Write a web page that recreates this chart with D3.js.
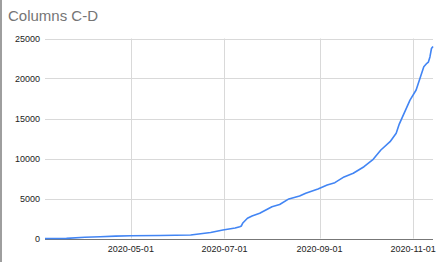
<!DOCTYPE html>
<html>
<head>
<meta charset="utf-8">
<style>
body { margin: 0; background: #fff; }
.grid line { stroke: #d9d9d9; stroke-width: 1; }
.axis text { font-family: "Liberation Sans", Arial, sans-serif; font-size: 9px; fill: #222; }
</style>
</head>
<body>
<svg width="439" height="262"></svg>
<script src="https://d3js.org/d3.v7.min.js"></script>
<script>
// values
var dates = ["2020-03-06","2020-03-20","2020-04-01","2020-04-11","2020-04-21","2020-05-01",
  "2020-05-20","2020-06-09","2020-06-22","2020-06-30","2020-07-08","2020-07-11","2020-07-12",
  "2020-07-13","2020-07-16","2020-07-19","2020-07-24","2020-07-28","2020-08-01","2020-08-06",
  "2020-08-12","2020-08-19","2020-08-23","2020-08-31","2020-09-06","2020-09-11","2020-09-17",
  "2020-09-23","2020-09-30","2020-10-06","2020-10-11","2020-10-17","2020-10-21","2020-10-23",
  "2020-10-30","2020-11-03","2020-11-08","2020-11-10","2020-11-11","2020-11-12","2020-11-13","2020-11-14"];
var values = [0, 20, 150, 225, 300, 350,
  380, 440, 750, 1060, 1310, 1475, 1560,
  1940, 2525, 2810, 3150, 3560, 3975, 4250,
  4950, 5300, 5650, 6190, 6690, 6980, 7700,
  8150, 8975, 9900, 11060, 12100, 13150, 14300,
  17300, 18560, 21475, 21900, 22050, 22700, 23750, 24000];
var yTicks = [0, 5000, 10000, 15000, 20000, 25000];
var title = "Columns C-D";

var parse = d3.timeParse("%Y-%m-%d");
var data = dates.map(function(d, i) { return { date: parse(d), value: values[i] }; });

var svg = d3.select("svg");
var plotLeft = 45, plotRight = 433, plotTop = 38.5, plotBottom = 238.5;

var x = d3.scaleTime().domain(d3.extent(data, function(d) { return d.date; })).range([plotLeft, plotRight]);
var y = d3.scaleLinear().domain([0, 25000]).range([plotBottom, plotTop]);

// frame edge on the left
svg.append("line").attr("x1", 1).attr("x2", 1).attr("y1", 0).attr("y2", 262)
  .attr("stroke", "#9e9e9e").attr("stroke-width", 2);

svg.append("text").attr("x", 8).attr("y", 21).text(title)
  .attr("font-family", "Liberation Sans, Arial, sans-serif").attr("font-size", "15px").attr("fill", "#757575");

var xTicks = x.ticks(d3.timeMonth.every(2));

var grid = svg.append("g").attr("class", "grid");
grid.selectAll(".h").data(yTicks.slice(1)).enter().append("line")
  .attr("x1", plotLeft).attr("x2", plotRight)
  .attr("y1", function(d) { return Math.round(y(d)) + 0.5; })
  .attr("y2", function(d) { return Math.round(y(d)) + 0.5; });
grid.selectAll(".v").data(xTicks).enter().append("line")
  .attr("x1", function(d) { return Math.round(x(d)) + 0.5; })
  .attr("x2", function(d) { return Math.round(x(d)) + 0.5; })
  .attr("y1", plotTop).attr("y2", plotBottom);

// baseline
svg.append("line").attr("x1", plotLeft).attr("x2", plotRight)
  .attr("y1", Math.round(y(0)) + 0.5).attr("y2", Math.round(y(0)) + 0.5)
  .attr("stroke", "#777").attr("stroke-width", 1);

var yAxis = svg.append("g").attr("class", "axis");
yAxis.selectAll("text").data(yTicks).enter().append("text")
  .attr("x", plotLeft - 5).attr("y", function(d) { return y(d) + 3; })
  .attr("text-anchor", "end").text(function(d) { return d; });

var fmt = d3.timeFormat("%Y-%m-%d");
var xAxis = svg.append("g").attr("class", "axis");
xAxis.selectAll("text").data(xTicks).enter().append("text")
  .attr("x", function(d) { return x(d); }).attr("y", 252)
  .attr("text-anchor", "middle").text(function(d) { return fmt(d); });

var line = d3.line()
  .x(function(d) { return x(d.date); })
  .y(function(d) { return y(d.value); });

svg.append("path").datum(data)
  .attr("fill", "none").attr("stroke", "#4285f4").attr("stroke-width", 1.6)
  .attr("stroke-linejoin", "round").attr("d", line);
</script>
</body>
</html>
